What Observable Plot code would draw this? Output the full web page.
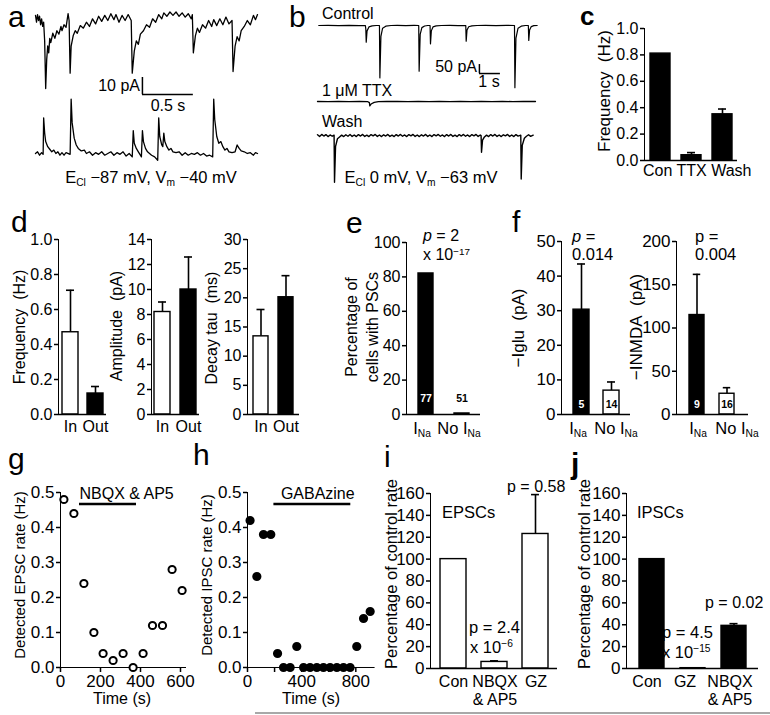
<!DOCTYPE html>
<html><head><meta charset="utf-8">
<script src="https://cdn.jsdelivr.net/npm/d3@7"></script>
<script src="https://cdn.jsdelivr.net/npm/@observablehq/plot@0.6"></script>
<style>
body{margin:0;background:#fff;}
#fig{position:relative;width:770px;height:715px;overflow:hidden;font-family:"Liberation Sans",Arial,Helvetica,sans-serif;color:#000;background:#fff;}
#fig svg{position:absolute;overflow:visible;}
.t{position:absolute;white-space:nowrap;line-height:1;}
.t sub{font-size:62%;vertical-align:-0.35em;line-height:0;}
.t sup{font-size:62%;vertical-align:0.55em;line-height:0;}
g[aria-label*="axis"]{stroke-width:1.5px;}
</style></head>
<body><div id="fig"></div>
<script>
// ---------------- DATA ----------------
// panel a: top trace (time s, current pA)
const traceA1 = [[0,3],[0.01,-1],[0.02,3.5],[0.03,0],[0.04,2.5],[0.05,-2.5],[0.06,1],[0.07,-3.5],[0.08,-1],[0.09,-12],[0.10,-40],[0.11,-23],[0.12,-15],[0.13,-19],[0.14,-10.5],[0.15,-13],[0.17,-7.5],[0.19,-10.5],[0.21,-6],[0.23,-8],[0.25,-3.5],[0.26,-6],[0.28,-2.5],[0.30,-4],[0.32,4],[0.33,0],[0.34,-31],[0.35,-15],[0.37,-9],[0.39,-6],[0.41,-7.5],[0.44,-3],[0.47,-4.5],[0.50,-1],[0.53,-3.5],[0.56,1],[0.59,-2],[0.62,2.5],[0.65,-0.5],[0.68,3],[0.71,0],[0.74,4],[0.77,0.5],[0.79,3.5],[0.82,-1],[0.85,3],[0.88,0],[0.91,3.5],[0.94,0],[0.95,-31],[0.97,-18],[0.99,-12],[1.01,-14],[1.03,-8],[1.06,-6],[1.09,-2.5],[1.12,-4],[1.15,1],[1.18,-1],[1.21,3.5],[1.24,1],[1.26,4.5],[1.29,2.5],[1.32,5],[1.35,3],[1.38,5],[1.41,2.5],[1.44,4.5],[1.47,2],[1.50,4],[1.53,1],[1.54,3.5],[1.55,-19],[1.57,-9],[1.59,-4.5],[1.61,-7],[1.64,-2.5],[1.67,-4.5],[1.70,0],[1.73,-3.5],[1.75,0.5],[1.78,-3],[1.81,1],[1.84,-2.5],[1.87,2],[1.90,-2],[1.93,0],[1.94,-30],[1.96,-15],[1.98,-9.5],[2.00,-12],[2.02,-6],[2.05,-3.5],[2.08,0],[2.11,-2.5],[2.14,3],[2.16,0.5],[2.18,3.5]];
// panel a: bottom trace
const traceA2 = [[0,0],[0.02,1],[0.04,-1],[0.06,0.5],[0.075,-0.5],[0.08,21],[0.09,12],[0.10,7],[0.12,4],[0.14,2.5],[0.16,1],[0.18,2],[0.20,0],[0.22,1],[0.24,-1],[0.26,0.5],[0.28,-1],[0.30,0.5],[0.34,-0.5],[0.35,32],[0.36,18],[0.38,9],[0.40,5],[0.42,3],[0.45,1.5],[0.48,2],[0.50,0],[0.53,1],[0.56,-1],[0.59,0.5],[0.62,-0.5],[0.65,1],[0.68,-1],[0.71,0],[0.74,1],[0.77,-1],[0.80,0.5],[0.83,-0.5],[0.86,1],[0.89,-1.5],[0.92,0],[0.95,-2],[0.96,13.5],[0.97,6],[0.99,3],[1.01,1],[1.03,-1],[1.04,-2],[1.05,13.5],[1.06,7],[1.08,3],[1.10,1],[1.14,-1],[1.17,-2],[1.20,-4],[1.21,21],[1.22,10],[1.24,5],[1.25,4],[1.26,12],[1.27,7],[1.29,4],[1.31,2],[1.33,3],[1.35,1],[1.38,0.5],[1.41,1],[1.44,-1],[1.47,0.5],[1.50,-1],[1.53,0],[1.56,-0.5],[1.59,0.5],[1.62,-1],[1.65,0],[1.68,-1.5],[1.71,-1],[1.74,-2],[1.75,32],[1.76,20],[1.78,10],[1.80,6],[1.82,7],[1.84,4],[1.86,2],[1.88,3],[1.90,1],[1.93,0.5],[1.96,1],[1.98,5],[2.00,3],[2.02,1.5],[2.05,1],[2.08,0],[2.11,0.5],[2.14,-1],[2.16,0.5],[2.18,0]];
const scaleBarA = {pA: 10, s: 0.5};
// panel b traces (time s, current pA)
const traceControl = [[0.06,0],[0.5,1],[1.0,-1],[1.5,0.5],[2.0,-0.5],[2.28,0],[2.30,-20],[2.32,-93],[2.36,-30],[2.45,-8],[2.6,-2],[2.8,0],[2.95,0],[2.97,-291],[3.02,-60],[3.1,-15],[3.25,-4],[3.5,0],[3.8,1],[4.2,-0.5],[4.6,0.5],[4.82,0],[4.84,-254],[4.89,-50],[4.97,-12],[5.1,-3],[5.25,0],[5.36,0],[5.38,-102],[5.42,-30],[5.5,-8],[5.65,-2],[5.9,0],[6.3,1],[6.7,-0.5],[7.06,0],[7.08,-87],[7.12,-25],[7.2,-7],[7.35,-2],[7.6,0],[8.0,1],[8.5,-0.5],[9.0,0.5],[9.38,0],[9.40,-346],[9.45,-70],[9.55,-15],[9.7,-4],[9.9,0],[10.04,0],[10.06,-83],[10.10,-25],[10.18,-6],[10.3,-1],[10.46,0]];
const traceTTX = [[0,0],[0.5,-1],[1.0,1],[1.5,-0.5],[2.0,0.5],[2.4,-1],[2.47,-6],[2.49,-24],[2.55,-14],[2.7,-5],[2.9,-1],[3.3,0],[3.8,1],[4.3,-0.5],[4.8,0.5],[5.3,-1],[5.8,0.5],[6.3,-0.5],[6.8,1],[7.3,-0.5],[7.8,0.5],[8.3,-1],[8.8,0.5],[9.3,-0.5],[9.8,0.5],[10.38,0]];
const traceWash = [[0,4],[0.1,-5],[0.2,6],[0.3,-3],[0.4,5],[0.5,-6],[0.6,3],[0.7,-4],[0.79,2],[0.81,-259],[0.86,-60],[0.95,-18],[1.05,-8],[1.15,2],[1.25,-6],[1.35,4],[1.45,-4],[1.55,6],[1.65,-5],[1.75,3],[1.85,-6],[1.95,5],[2.05,-3],[2.15,6],[2.25,-5],[2.35,2],[2.45,-6],[2.55,5],[2.65,-2],[2.75,6],[2.85,-5],[2.95,3],[3.05,-6],[3.15,4],[3.25,-3],[3.35,6],[3.45,-5],[3.55,2],[3.65,-6],[3.75,5],[3.85,-3],[3.95,6],[4.05,-4],[4.15,3],[4.25,-6],[4.35,5],[4.45,-2],[4.55,6],[4.65,-5],[4.75,3],[4.85,-6],[4.95,4],[5.05,-3],[5.15,6],[5.25,-5],[5.35,3],[5.45,-6],[5.55,5],[5.65,-2],[5.75,6],[5.85,-4],[5.95,3],[6.05,-6],[6.15,5],[6.25,-3],[6.35,6],[6.45,-5],[6.55,2],[6.65,-6],[6.75,5],[6.85,-3],[6.95,6],[7.05,-4],[7.15,3],[7.25,-6],[7.35,5],[7.45,-2],[7.55,6],[7.65,-5],[7.75,3],[7.79,0],[7.81,-93],[7.86,-25],[7.95,-8],[8.05,2],[8.15,-6],[8.25,5],[8.35,-3],[8.45,6],[8.55,-5],[8.65,3],[8.75,-6],[8.85,4],[8.95,-2],[9.05,6],[9.15,-5],[9.25,3],[9.35,-6],[9.45,5],[9.55,-3],[9.68,2],[9.70,-241],[9.75,-55],[9.85,-15],[9.95,-4],[10.05,4],[10.15,-5],[10.27,2]];
const scaleBarB = {pA: 50, s: 1};
// panel c
const cCats = ["Con", "TTX", "Wash"];
const cFreq = [0.81, 0.04, 0.35];
const cErr = [0, 0.02, 0.04];
// panel d
const dCats = ["In", "Out"];
const dFreq = [0.47, 0.12], dFreqErr = [0.24, 0.04];
const dAmp = [8.2, 10.0], dAmpErr = [0.8, 2.6];
const dTau = [13.4, 20.1], dTauErr = [4.6, 3.7];
// panel e
const naCats = ["INa", "No INa"];
const ePct = [82, 0.6], eN = [77, 51];
// panel f
const fIglu = [30.3, 6.9], fIgluErr = [13.2, 2.5], fIgluN = [5, 14];
const fNmda = [115, 24], fNmdaErr = [47, 7], fNmdaN = [9, 16];
// panel g
const gTime = [17, 67, 117, 167, 213, 263, 313, 363, 413, 460, 510, 558, 608];
const gRate = [0.48, 0.44, 0.24, 0.10, 0.04, 0.02, 0.04, 0.0, 0.04, 0.12, 0.12, 0.28, 0.22];
const gDrug = {start: 95, end: 380, label: "NBQX & AP5"};
// panel h
const hTime = [19, 69, 118, 172, 222, 266, 315, 364, 414, 462, 512, 561, 610, 660, 709, 758, 807, 857, 906];
const hRate = [0.42, 0.26, 0.38, 0.38, 0.04, 0, 0, 0.06, 0, 0, 0, 0, 0, 0, 0, 0, 0.06, 0.14, 0.16];
const hDrug = {start: 195, end: 763, label: "GABAzine"};
// panel i
const iCats = ["Con", "NBQX\n& AP5", "GZ"];
const iPct = [100, 6, 123], iErr = [0, 1, 36];
// panel j
const jCats = ["Con", "GZ", "NBQX\n& AP5"];
const jPct = [100, 0.3, 39], jErr = [0, 0, 2];

// ---------------- HELPERS ----------------
const FONT = '"Liberation Sans", Arial, Helvetica, sans-serif';
const fig = document.getElementById("fig");
function place(svg, left, top) {
  svg.style.position = "absolute"; svg.style.left = left + "px"; svg.style.top = top + "px";
  fig.appendChild(svg);
}
function T(html, x, y, size, o = {}) {
  const d = document.createElement("div");
  d.className = "t"; d.innerHTML = html;
  d.style.fontSize = size + "px"; d.style.left = x + "px"; d.style.top = y + "px";
  if (o.bold) d.style.fontWeight = "bold";
  if (o.lh) { d.style.lineHeight = o.lh + "px"; d.style.textAlign = "center"; }
  const tx = o.anchor === "start" ? "0" : o.anchor === "end" ? "-100%" : "-50%";
  d.style.transform = `translate(${tx},-50%)` + (o.rotate ? " rotate(-90deg)" : "");
  fig.appendChild(d);
}
function L(letter, x, baseline, size, bold) {
  T(letter, x, baseline - 0.3465 * size, size, {anchor: "start", bold});
}
const baseStyle = (fs) => ({fontFamily: FONT, fontSize: fs + "px", color: "black", background: "transparent", overflow: "visible"});

function tracePlot(data, o) {
  const svg = Plot.plot({
    width: o.width, height: o.height, margin: 0,
    style: baseStyle(16),
    x: {domain: o.xdom, axis: null}, y: {domain: o.ydom, axis: null},
    marks: [Plot.line(data, {x: d => d[0], y: d => d[1], stroke: "black", strokeWidth: o.sw || 1.2}), ...(o.extra || [])]
  });
  place(svg, o.left, o.top);
}

function barPanel(c) {
  const {cats, vals, errs, fills, ns, ymax, ticks, fmt, ax, axEnd, yTop, yBot, pi, po} = c;
  const fs = c.fs || 16, capW = c.capW || 8;
  const mL = 44, mR = 4, mT = 10, mB = 44;
  const W = axEnd - ax, H = yBot - yTop, n = cats.length;
  const step = W / (n - pi + 2 * po), bw = step * (1 - pi);
  const rows = cats.map((k, i) => ({cat: k, v: vals[i], e: errs ? errs[i] : 0, fill: fills[i], n: ns ? ns[i] : null}));
  const withErr = rows.filter(d => d.e > 0);
  const inset = Math.max(0, (bw - capW) / 2);
  const marks = [
    Plot.ruleX(withErr, {x: "cat", y1: "v", y2: d => d.v + d.e, strokeWidth: 1.6}),
    Plot.tickY(withErr, {x: "cat", y: d => d.v + d.e, insetLeft: inset, insetRight: inset, strokeWidth: 1.6}),
    Plot.barY(rows, {x: "cat", y: "v", fill: "fill", stroke: "black", strokeWidth: 1.4}),
    Plot.ruleY([0], {strokeWidth: 1.5})
  ];
  if (ns) marks.push(Plot.text(rows, {x: "cat", text: "n", frameAnchor: "bottom", dy: c.nDy || -12,
    fill: d => (d.fill === "black" && d.v > 10) ? "white" : "black", fontWeight: "bold", fontSize: 10.5}));
  const svg = Plot.plot({
    width: mL + W + mR, height: mT + H + mB,
    marginLeft: mL, marginRight: mR, marginTop: mT, marginBottom: mB,
    style: baseStyle(fs),
    x: {domain: cats, paddingInner: pi, paddingOuter: po, tickSize: 0, tickPadding: c.xPad ?? 4, label: null,
        tickFormat: c.hideX ? () => "" : d => d},
    y: {domain: [0, ymax], ticks, tickFormat: fmt, tickSize: 4, tickPadding: 2, line: true, label: null},
    color: {type: "identity"},
    marks
  });
  place(svg, ax - mL, yTop - mT);
}

function scatterPanel(c) {
  const mL = 45, mR = 10, mT = 15, mB = 45;
  const W = c.xdom[1] * c.pxPerS, H = c.yBot - c.yTop;
  const rows = c.t.map((t, i) => ({t, r: c.r[i]}));
  const svg = Plot.plot({
    width: mL + W + mR, height: mT + H + mB,
    marginLeft: mL, marginRight: mR, marginTop: mT, marginBottom: mB,
    style: baseStyle(17),
    x: {domain: c.xdom, ticks: c.xticks, tickFormat: c.xfmt, tickSize: 5, tickPadding: 2, line: true, label: null},
    y: {domain: [0, 0.5], ticks: [0, 0.1, 0.2, 0.3, 0.4, 0.5], tickFormat: d3.format(".1f"), tickSize: 4, tickPadding: 2, line: true, label: null},
    marks: [
      Plot.ruleY([c.drug], {x1: "start", x2: "end", y: () => 0.467, strokeWidth: 2.6}),
      Plot.text([c.drug], {x: "start", y: () => 0.497, text: "label", textAnchor: "start", dx: c.labelDx || 0, fontSize: 16}),
      Plot.dot(rows, {x: "t", y: "r", r: 3.6, stroke: "black", strokeWidth: 2, fill: c.filled ? "black" : "white"})
    ]
  });
  place(svg, c.ax - mL, c.yTop - mT);
}
function catLabels(cats, centers, cy, size) {
  cats.forEach((k, i) => T(k.replace("\n", "<br>"), centers[i], cy + (k.includes("\n") ? 9 : 0), size, {lh: 18}));
}

// ---------------- PANEL a ----------------
L("a", 8, 27, 30);
const aBarT = 1.05, aBarI = -43.5;
tracePlot(traceA1, {left: 35, top: 8, width: 222, height: 112, xdom: [0, 2.18], ydom: [-58.8, 7.06], sw: 1.3,
  extra: [
    Plot.ruleX([aBarT], {y1: aBarI, y2: aBarI + scaleBarA.pA, strokeWidth: 1.5}),
    Plot.ruleY([aBarI], {x1: aBarT, x2: aBarT + scaleBarA.s, strokeWidth: 1.5})
  ]});
tracePlot(traceA2, {left: 35, top: 95, width: 222, height: 70, xdom: [0, 2.18], ydom: [-7.06, 34.1], sw: 1.3});
T(scaleBarA.pA + " pA", 140, 86, 16, {anchor: "end"});
T(scaleBarA.s + " s", 168, 106, 16);
T("E<sub>Cl</sub> &minus;87 mV, V<sub>m</sub> &minus;40 mV", 151, 177, 16.5);

// ---------------- PANEL b ----------------
L("b", 289, 27, 30);
const bBarT = 7.71, bBarI = -267;
tracePlot(traceControl, {left: 317, top: 5, width: 220, height: 90, xdom: [0, 10.476], ydom: [-389, 111], sw: 1.2,
  extra: [
    Plot.ruleX([bBarT], {y1: bBarI, y2: bBarI + scaleBarB.pA, strokeWidth: 1.5}),
    Plot.ruleY([bBarI], {x1: bBarT, x2: bBarT + scaleBarB.s, strokeWidth: 1.5})
  ]});
tracePlot(traceTTX, {left: 317, top: 96, width: 220, height: 12, xdom: [0, 10.476], ydom: [-38.9, 27.8], sw: 1.3});
tracePlot(traceWash, {left: 317, top: 128, width: 220, height: 58, xdom: [0, 10.476], ydom: [-283, 38.9], sw: 1.4});
T("Control", 322, 14, 16, {anchor: "start"});
T("1 &mu;M TTX", 322, 91, 16, {anchor: "start"});
T("Wash", 322, 122, 16, {anchor: "start"});
T(scaleBarB.pA + " pA", 477, 67, 16, {anchor: "end"});
T(scaleBarB.s + " s", 489, 82, 16);
T("E<sub>Cl</sub> 0 mV, V<sub>m</sub> &minus;63 mV", 421, 177, 16.5);

// ---------------- PANEL c ----------------
L("c", 580, 25, 26, true);
barPanel({cats: cCats, vals: cFreq, errs: cErr, fills: ["black", "black", "black"], ymax: 1.0,
  ticks: [0, 0.2, 0.4, 0.6, 0.8, 1.0], fmt: d3.format(".1f"), ax: 644, axEnd: 737, yTop: 28, yBot: 160,
  pi: 0.365, po: 0.16, hideX: true, capW: 8});
T(cCats.join(" "), 643, 171, 16, {anchor: "start"});
T("Frequency&nbsp;&nbsp;(Hz)", 604, 91, 17, {rotate: true});

// ---------------- PANEL d ----------------
L("d", 11, 232, 30);
barPanel({cats: dCats, vals: dFreq, errs: dFreqErr, fills: ["white", "black"], ymax: 1.0,
  ticks: [0, 0.2, 0.4, 0.6, 0.8, 1.0], fmt: d3.format(".1f"), ax: 58, axEnd: 106, yTop: 239, yBot: 414,
  pi: 0.373, po: 0.13, xPad: 6});
barPanel({cats: dCats, vals: dAmp, errs: dAmpErr, fills: ["white", "black"], ymax: 14,
  ticks: [0, 2, 4, 6, 8, 10, 12, 14], fmt: d => d, ax: 151, axEnd: 199, yTop: 239, yBot: 414,
  pi: 0.385, po: 0.115, xPad: 6});
barPanel({cats: dCats, vals: dTau, errs: dTauErr, fills: ["white", "black"], ymax: 30,
  ticks: [0, 5, 10, 15, 20, 25, 30], fmt: d => d, ax: 247, axEnd: 299, yTop: 239, yBot: 414,
  pi: 0.4, po: 0.24, xPad: 6});
T("Frequency&nbsp;&nbsp;(Hz)", 19.5, 327, 16, {rotate: true});
T("Amplitude&nbsp;&nbsp;(pA)", 117, 326, 16, {rotate: true});
T("Decay tau&nbsp;&nbsp;(ms)", 212, 328, 16, {rotate: true});

// ---------------- PANEL e ----------------
L("e", 346, 233, 30);
barPanel({cats: naCats, vals: ePct, fills: ["black", "black"], ns: eN, ymax: 100,
  ticks: [0, 20, 40, 60, 80, 100], fmt: d => d, ax: 406, axEnd: 480, yTop: 242, yBot: 414,
  pi: 0.595, po: 0.3, hideX: true, nDy: -13});
T("Percentage of<br>cells with PSCs", 361.5, 327, 16, {rotate: true, lh: 21});
T("I<sub>Na</sub>", 422, 428, 16.5);
T("No I<sub>Na</sub>", 459, 428, 16.5);
T("<i>p</i> = 2", 423, 236, 16, {anchor: "start"});
T("x 10<sup>&minus;17</sup>", 423, 255, 16, {anchor: "start"});

// ---------------- PANEL f ----------------
L("f", 512, 232, 30);
barPanel({cats: naCats, vals: fIglu, errs: fIgluErr, fills: ["black", "white"], ns: fIgluN, ymax: 50,
  ticks: [0, 10, 20, 30, 40, 50], fmt: d => d, ax: 561, axEnd: 630, yTop: 241, yBot: 414,
  pi: 0.475, po: 0.37, hideX: true, nDy: -7, fs: 17});
barPanel({cats: naCats, vals: fNmda, errs: fNmdaErr, fills: ["black", "white"], ns: fNmdaN, ymax: 200,
  ticks: [0, 50, 100, 150, 200], fmt: d => d, ax: 676, axEnd: 748, yTop: 241, yBot: 414,
  pi: 0.49, po: 0.425, hideX: true, nDy: -7, fs: 17});
T("&minus;Iglu&nbsp;&nbsp;(pA)", 518, 328, 17, {rotate: true});
T("&minus;INMDA&nbsp;&nbsp;(pA)", 636, 327, 17, {rotate: true});
T("I<sub>Na</sub>", 578, 428, 16.5);
T("No I<sub>Na</sub>", 616, 428, 16.5);
T("I<sub>Na</sub>", 698, 428, 16.5);
T("No I<sub>Na</sub>", 737, 428, 16.5);
T("<i>p</i> =", 572, 236, 16.5, {anchor: "start"});
T("0.014", 572, 254, 16.5, {anchor: "start"});
T("p =", 695, 236, 16.5, {anchor: "start"});
T("0.004", 695, 254, 16.5, {anchor: "start"});

// ---------------- PANEL g ----------------
L("g", 8, 469, 30);
scatterPanel({t: gTime, r: gRate, drug: gDrug, filled: false, xdom: [0, 625], pxPerS: 0.2,
  xticks: [0, 200, 400, 600], xfmt: d => d, ax: 59.5, yTop: 491.7, yBot: 666.7});
T("Detected EPSC rate (Hz)", 18.5, 575, 15, {rotate: true});
T("Time (s)", 122, 699, 16);

// ---------------- PANEL h ----------------
L("h", 193, 465, 30);
scatterPanel({t: hTime, r: hRate, drug: hDrug, filled: true, xdom: [0, 935], pxPerS: 0.1354,
  xticks: [0, 200, 400, 600, 800], xfmt: d => (d % 400 === 0 ? d : ""), ax: 246.7, yTop: 491.7, yBot: 666.7, labelDx: 7});
T("Detected IPSC rate (Hz)", 206, 575, 15, {rotate: true});
T("Time (s)", 311, 699, 16);

// ---------------- PANEL i ----------------
L("i", 384, 467, 30);
barPanel({cats: iCats, vals: iPct, errs: iErr, fills: ["white", "white", "white"], ymax: 160,
  ticks: [0, 20, 40, 60, 80, 100, 120, 140, 160], fmt: d => d, ax: 430, axEnd: 557, yTop: 493.3, yBot: 668.3,
  pi: 0.37, po: 0.22, hideX: true, fs: 17, capW: 8});
catLabels(iCats, [453.5, 495, 536], 682, 16);
T("Percentage of control rate", 391, 574, 16.5, {rotate: true});
T("EPSCs", 442, 512, 16.5, {anchor: "start"});
T("p = 0.58", 507, 487, 16, {anchor: "start"});
T("p = 2.4", 469, 627, 16.5, {anchor: "start"});
T("x 10<sup>&minus;6</sup>", 470, 647, 16.5, {anchor: "start"});

// ---------------- PANEL j ----------------
L("j", 571, 474, 30, true);
barPanel({cats: jCats, vals: jPct, errs: jErr, fills: ["black", "black", "black"], ymax: 160,
  ticks: [0, 20, 40, 60, 80, 100, 120, 140, 160], fmt: d => d, ax: 626, axEnd: 758, yTop: 493.3, yBot: 668.3,
  pi: 0.394, po: 0.3, hideX: true, fs: 17, capW: 8});
catLabels(jCats, [647, 685, 730], 682, 16);
T("Percentage of control rate", 583.5, 574, 16.5, {rotate: true});
T("IPSCs", 637, 512, 16.5, {anchor: "start"});
T("p = 0.02", 705, 603, 16, {anchor: "start"});
T("p = 4.5", 662, 632, 16.5, {anchor: "start"});
T("x 10<sup>&minus;15</sup>", 662, 652, 16.5, {anchor: "start"});

// bottom rule
const hr = document.createElement("div");
hr.style.cssText = "position:absolute;left:255px;top:712px;width:515px;height:2px;background:#a8a8a8;";
fig.appendChild(hr);
</script>
</body></html>
